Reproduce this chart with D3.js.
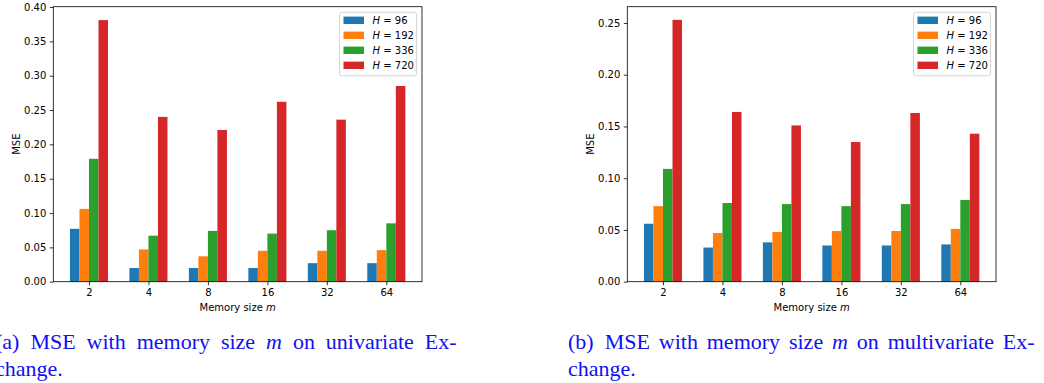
<!DOCTYPE html>
<html>
<head>
<meta charset="utf-8">
<script src="https://cdn.jsdelivr.net/npm/d3@7"></script>
<style>
  body { margin: 0; background: #fff; }
  svg { display: block; }
</style>
</head>
<body>
<div id="chart"></div>
<script>
// memory sizes on the x axis
const memorySizes = ["2", "4", "8", "16", "32", "64"];
const horizons = ["96", "192", "336", "720"];
const colors = ["#1f77b4", "#ff7f0e", "#2ca02c", "#d62728"];

// (a) univariate Exchange
const uniH96  = [0.077, 0.020, 0.020, 0.020, 0.027, 0.027];
const uniH192 = [0.106, 0.047, 0.037, 0.045, 0.045, 0.046];
const uniH336 = [0.179, 0.067, 0.074, 0.070, 0.075, 0.085];
const uniH720 = [0.381, 0.240, 0.221, 0.262, 0.236, 0.285];

// (b) multivariate Exchange
const multiH96  = [0.056, 0.033, 0.038, 0.035, 0.035, 0.036];
const multiH192 = [0.073, 0.047, 0.048, 0.049, 0.049, 0.051];
const multiH336 = [0.109, 0.076, 0.075, 0.073, 0.075, 0.079];
const multiH720 = [0.253, 0.164, 0.151, 0.135, 0.163, 0.143];

const yTicksA = [0, 0.05, 0.10, 0.15, 0.20, 0.25, 0.30, 0.35, 0.40];
const yTicksB = [0, 0.05, 0.10, 0.15, 0.20, 0.25];

const W = 1044, H = 383;
const font = "'DejaVu Sans', sans-serif";
const serif = "'Liberation Serif', 'Times New Roman', serif";

const svg = d3.select("#chart").append("svg")
  .attr("width", W).attr("height", H);

function panel(left, right, series, yTicks, yTop) {
  const top = 6.7, bottom = 281.7;
  const g = svg.append("g");

  const x = d3.scaleLinear().domain([-0.6, 5.6]).range([left, right]);
  const y = d3.scaleLinear().domain([0, yTop]).range([bottom, top]);
  const bw = 0.16;

  series.forEach((vals, i) => {
    g.selectAll(null)
      .data(vals)
      .enter().append("rect")
        .attr("fill", colors[i])
        .attr("x", (d, j) => x(j + (i - 2) * bw))
        .attr("width", x(bw) - x(0))
        .attr("y", d => y(d))
        .attr("height", d => bottom - y(d));
  });

  const yAxis = d3.axisLeft(y).tickValues(yTicks)
    .tickFormat(d3.format(".2f")).tickSize(3.5).tickPadding(3.5);
  const xAxis = d3.axisBottom(x).tickValues(d3.range(memorySizes.length))
    .tickFormat(i => memorySizes[i]).tickSize(3.5).tickPadding(3.5);

  const ya = g.append("g").attr("transform", `translate(${left},0)`).call(yAxis);
  const xa = g.append("g").attr("transform", `translate(0,${bottom})`).call(xAxis);
  [ya, xa].forEach(a => {
    a.select(".domain").remove();
    a.selectAll("line").attr("stroke", "#000").attr("stroke-width", 0.8);
    a.selectAll("text").attr("font-family", font).attr("font-size", 10).attr("fill", "#000");
  });

  // frame
  g.append("rect")
    .attr("x", left).attr("y", top)
    .attr("width", right - left).attr("height", bottom - top)
    .attr("fill", "none").attr("stroke", "#000").attr("stroke-width", 0.8);

  // axis labels
  g.append("text")
    .attr("transform", `translate(${left - 36},${(top + bottom) / 2}) rotate(-90)`)
    .attr("text-anchor", "middle").attr("dominant-baseline", "middle")
    .attr("font-family", font).attr("font-size", 10)
    .text("MSE");

  const xl = g.append("text")
    .attr("x", (left + right) / 2).attr("y", 311)
    .attr("text-anchor", "middle")
    .attr("font-family", font).attr("font-size", 10);
  xl.append("tspan").text("Memory size ");
  xl.append("tspan").attr("font-style", "italic").text("m");

  // legend
  const lx = right - 82.5, ly = 12.3;
  const lg = g.append("g").attr("transform", `translate(${lx},${ly})`);
  lg.append("rect")
    .attr("width", 77).attr("height", 63.5).attr("rx", 2)
    .attr("fill", "#fff").attr("fill-opacity", 0.8)
    .attr("stroke", "#cccccc").attr("stroke-width", 0.8);
  horizons.forEach((h, i) => {
    const cy = 8 + i * 15;
    lg.append("rect")
      .attr("x", 4).attr("y", cy - 3.7)
      .attr("width", 20.5).attr("height", 7.4)
      .attr("fill", colors[i]);
    const t = lg.append("text")
      .attr("x", 33).attr("y", cy + 3.6)
      .attr("font-family", font).attr("font-size", 10);
    t.append("tspan").attr("font-style", "italic").text("H");
    t.append("tspan").text(" = " + h);
  });
}

panel(53.3, 422, [uniH96, uniH192, uniH336, uniH720], yTicksA, 0.4005);
panel(627.3, 996, [multiH96, multiH192, multiH336, multiH720], yTicksB, 0.2657);

// captions (justified first line, like the LaTeX subcaption)
function caption(x0, label, rest, width) {
  const t = svg.append("text")
    .attr("x", x0).attr("y", 349)
    .attr("font-family", serif)
    .attr("font-size", 22).attr("fill", "#1010f0");
  t.append("tspan").text(label + "\u2002MSE with memory size ");
  t.append("tspan").attr("font-style", "italic").text("m");
  t.append("tspan").text(" on " + rest + " Ex-");
  const natural = t.node().getComputedTextLength();
  const gaps = 8;
  const extra = (width - natural) / gaps;
  t.attr("word-spacing", extra > 0 ? extra : 0);

  svg.append("text")
    .attr("x", x0).attr("y", 375.5)
    .attr("font-family", serif)
    .attr("font-size", 22).attr("fill", "#1010f0")
    .text("change.");
}

caption(-5, "(a)", "univariate", 467);
caption(568, "(b)", "multivariate", 470);
</script>
</body>
</html>
